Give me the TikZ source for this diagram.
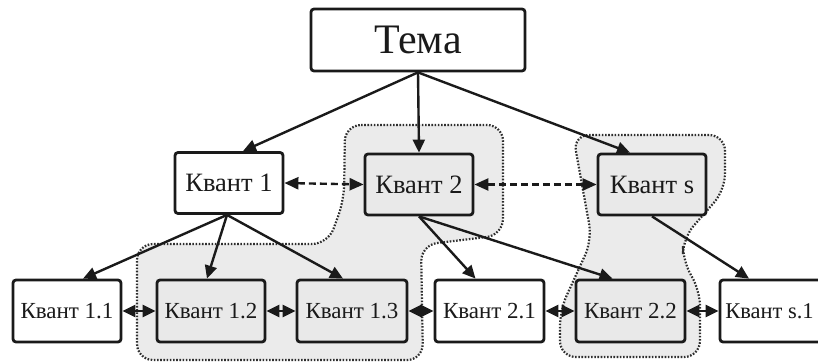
\documentclass[tikz,border=0pt]{standalone}
\usepackage{fontspec}
\setmainfont{Liberation Serif}
\usetikzlibrary{arrows.meta}
\definecolor{ink}{HTML}{1A1A1A}
\definecolor{boxgray}{HTML}{E9E9E9}
\definecolor{blobgray}{HTML}{EBEBEB}
\definecolor{dotc}{HTML}{2E2E2E}
\tikzset{
  box/.style={draw=ink, line width=2.8pt, rounded corners=3pt, inner sep=0pt, align=center, text=ink},
  topbox/.style={box, minimum width=108pt, minimum height=61pt, font=\fontsize{26.5}{30}\selectfont},
  lowbox/.style={box, minimum width=108pt, minimum height=62pt, font=\fontsize{23}{26}\selectfont},
  shaded/.style={fill=boxgray},
  plain/.style={fill=white},
  arr/.style={draw=ink, line width=2.4pt, -{Triangle[length=13pt,width=12pt]}},
  darr/.style={draw=ink, line width=2.4pt, dash pattern=on 7pt off 4pt, {Triangle[length=14pt,width=12pt]}-{Triangle[length=14pt,width=12pt]}},
  barr/.style={draw=ink, line width=2.4pt, {Triangle[length=13pt,width=12pt]}-{Triangle[length=13pt,width=12pt]}},
  blob/.style={fill=blobgray, draw=dotc, line width=2.2pt, dash pattern=on 1.6pt off 1.6pt, rounded corners=16pt},
}
\begin{document}
\begin{tikzpicture}[x=1pt, y=-1pt]
\useasboundingbox (0,0) rectangle (818,363);
% groups
\path[blob] (345,125) -- (503,125) -- (503,235) -- (421,245) -- (423,360) -- (137,360) -- (137,244) -- (328,244) -- (344,200) -- cycle;
\path[blob] (573,135) -- (725,135) -- (725,190) -- (683,238) -- (683,262) -- (700,290) -- (700,357) -- (560,357) -- (560,310) -- (592,240) -- cycle;
% nodes
\node[box, plain, minimum width=214pt, minimum height=62pt, font=\fontsize{42}{46}\selectfont] (T) at (418,40) {Тема};
\node[topbox, plain] (K1) at (229,183) {Квант 1};
\node[topbox, shaded] (K2) at (419,184.5) {Квант 2};
\node[topbox, shaded] (Ks) at (652,184.5) {Квант s};
\node[lowbox, plain] (K11) at (67,311) {Квант 1.1};
\node[lowbox, shaded] (K12) at (211,311) {Квант 1.2};
\node[lowbox, shaded, minimum width=110pt] (K13) at (352,311) {Квант 1.3};
\node[lowbox, plain, minimum width=109pt] (K21) at (489.5,311) {Квант 2.1};
\node[lowbox, shaded, minimum width=109pt] (K22) at (630.5,311) {Квант 2.2};
\node[lowbox, plain, minimum width=110pt, font=\fontsize{22.5}{26}\selectfont] (Ks1) at (775,311) {\hspace*{-11pt}Квант s.1};
% connectors
\draw[arr] (T.south) -- ([xshift=14pt]K1.north);
\draw[arr] (T.south) -- (K2.north);
\draw[arr] (T.south) -- ([xshift=-22pt]Ks.north);
\draw[arr] ([xshift=-2pt]K1.south) -- ([xshift=16pt]K11.north);
\draw[arr] ([xshift=-2pt]K1.south) -- ([xshift=-4pt]K12.north);
\draw[arr] ([xshift=-2pt]K1.south) -- ([xshift=-9pt]K13.north);
\draw[arr] (K2.south) -- ([xshift=-14pt]K21.north);
\draw[arr] (K2.south) -- ([xshift=-18pt]K22.north);
\draw[arr] (Ks.south) -- ([xshift=-26pt]Ks1.north);
\draw[darr] (K1.east) -- (K2.west);
\draw[darr] (K2.east) -- (Ks.west);
\draw[barr] (K11.east) -- (K12.west);
\draw[barr] (K12.east) -- (K13.west);
\draw[barr] (K13.east) -- (K21.west);
\draw[barr] (K21.east) -- (K22.west);
\draw[barr] (K22.east) -- (Ks1.west);
\end{tikzpicture}
\end{document}
